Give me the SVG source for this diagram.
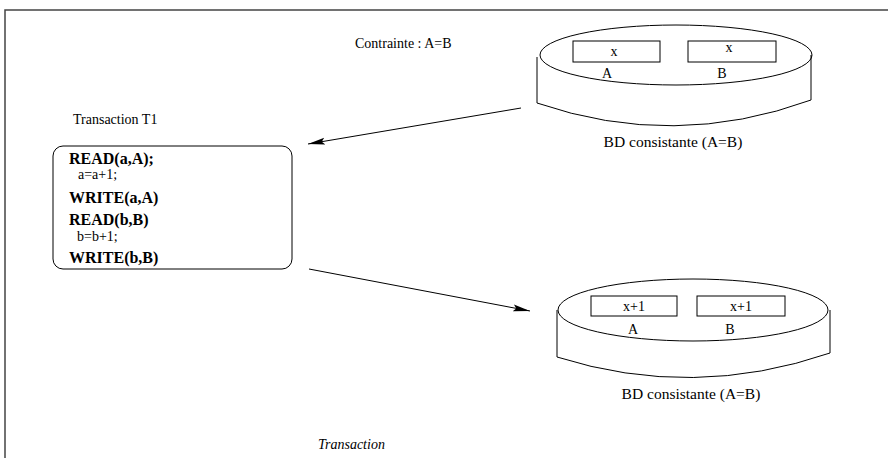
<svg xmlns="http://www.w3.org/2000/svg" width="888" height="458" viewBox="0 0 888 458">
  <defs>
    <marker id="arrow" markerWidth="18" markerHeight="8" refX="17" refY="4" orient="auto" markerUnits="userSpaceOnUse">
      <path d="M0,0.5 L17,4 L0,7.5 L3,4 Z" fill="#000"/>
    </marker>
  </defs>
  <style>
    text { font-family: "Liberation Serif", "Times New Roman", serif; fill: #000; }
    .t { font-size: 14px; }
    .bd { font-size: 15.5px; }
    .b { font-size: 16px; font-weight: bold; }
    .s { font-size: 14px; }
    .i { font-size: 14px; font-style: italic; }
    .line { fill: none; stroke: #000; stroke-width: 1; }
    .frame { fill: none; stroke: #444; stroke-width: 1.5; }
  </style>
  <rect width="888" height="458" fill="#fff"/>

  <!-- outer frame, open to the right and bottom -->
  <path class="frame" d="M888,10 H5 V458"/>

  <text class="t" x="355" y="48">Contrainte : A=B</text>

  <!-- database before the transaction -->
  <g id="db-before">
    <ellipse class="line" cx="676" cy="55" rx="136" ry="30"/>
    <path class="line" d="M537,57 V103 Q674,150 811,100 V55"/>
    <rect class="line" x="573" y="41" width="87" height="21"/>
    <rect class="line" x="688" y="41" width="88" height="21"/>
    <text class="s" x="614" y="56" text-anchor="middle">x</text>
    <text class="s" x="729" y="52" text-anchor="middle">x</text>
    <text class="t" x="607" y="78" text-anchor="middle">A</text>
    <text class="t" x="722" y="78" text-anchor="middle">B</text>
    <text class="bd" x="673" y="147" text-anchor="middle">BD consistante (A=B)</text>
  </g>

  <!-- transaction T1 -->
  <g id="transaction-t1">
    <text class="t" x="73" y="124">Transaction T1</text>
    <rect class="line" x="53" y="146" width="239" height="123" rx="10" ry="10"/>
    <text class="b" x="69" y="164">READ(a,A);</text>
    <text class="s" x="78" y="179">a=a+1;</text>
    <text class="b" x="69" y="203">WRITE(a,A)</text>
    <text class="b" x="69" y="225">READ(b,B)</text>
    <text class="s" x="77" y="241">b=b+1;</text>
    <text class="b" x="69" y="263">WRITE(b,B)</text>
  </g>

  <!-- database after the transaction -->
  <g id="db-after">
    <ellipse class="line" cx="693" cy="310" rx="135" ry="31"/>
    <path class="line" d="M557,310 V357 Q693,400 830,353 V310"/>
    <rect class="line" x="591" y="296" width="86" height="20"/>
    <rect class="line" x="697" y="296" width="88" height="20"/>
    <text class="s" x="634" y="311" text-anchor="middle">x+1</text>
    <text class="s" x="741" y="311" text-anchor="middle">x+1</text>
    <text class="t" x="633" y="334" text-anchor="middle">A</text>
    <text class="t" x="730" y="334" text-anchor="middle">B</text>
    <text class="bd" x="691" y="399" text-anchor="middle">BD consistante (A=B)</text>
  </g>

  <!-- connectors -->
  <g id="connectors">
    <line class="line" x1="521" y1="108" x2="308" y2="144" marker-end="url(#arrow)"/>
    <line class="line" x1="309" y1="269" x2="530" y2="311" marker-end="url(#arrow)"/>
  </g>

  <text class="i" x="318" y="449">Transaction</text>
</svg>
